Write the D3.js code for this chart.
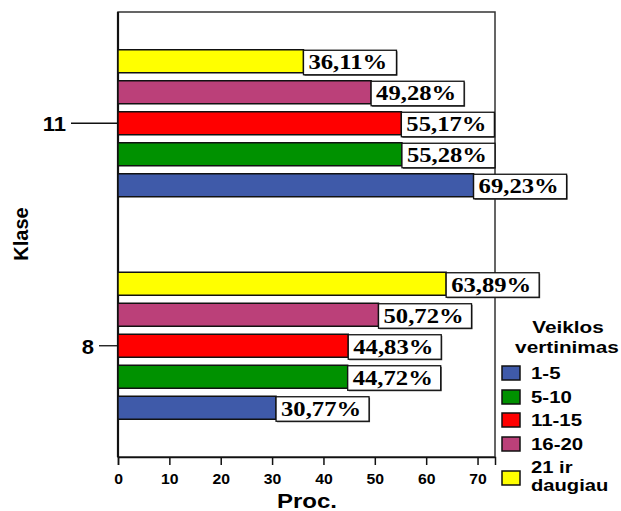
<!DOCTYPE html>
<html>
<head>
<meta charset="utf-8">
<script src="https://cdn.jsdelivr.net/npm/d3@7"></script>
<style>
  html, body { margin: 0; padding: 0; background: #fff; }
  svg { display: block; }
  .sans { font-family: Arial, "Liberation Sans", sans-serif; font-weight: bold; fill: #000; }
  .serif { font-family: "Times New Roman", "Liberation Serif", serif; font-weight: bold; fill: #000; }
</style>
</head>
<body>
<svg id="chart" width="621" height="511"></svg>
<script>
// Classes (y categories), top to bottom
const classes = ["11", "8"];
// Activity score groups (series), legend order
const series = ["1-5", "5-10", "11-15", "16-20", "21 ir daugiau"];
const seriesColors = ["#3f5aa9", "#009100", "#ff0000", "#bb4079", "#ffff00"];
// Percentages per class, one value per series
const values11 = [69.23, 55.28, 55.17, 49.28, 36.11];
const values8 = [30.77, 44.72, 44.83, 50.72, 63.89];
const xTicks = [0, 10, 20, 30, 40, 50, 60, 70];

const valuesByClass = { "11": values11, "8": values8 };
const fmt = v => v.toFixed(2).replace(".", ",") + "%";

const svg = d3.select("#chart");
const plot = { left: 118, right: 495, top: 12, bottom: 457 };

// widen a text node horizontally by the given factor
function stretch(sel, factor) {
  sel.each(function () {
    const len = this.getComputedTextLength();
    d3.select(this).attr("textLength", len * factor).attr("lengthAdjust", "spacingAndGlyphs");
  });
}

const x = d3.scaleLinear().domain([0, 73.4]).range([plot.left, plot.right]);
const y = d3.scalePoint().domain(classes).range([plot.top, plot.bottom]).padding(0.5);
// bars inside a class: highest series at the top
const inner = d3.scaleBand()
  .domain(series.slice().reverse())
  .range([-73.5, 73.5])
  .paddingInner(8 / 31)
  .paddingOuter(0);

// frame
svg.append("rect")
  .attr("x", plot.left).attr("y", plot.top)
  .attr("width", plot.right - plot.left).attr("height", plot.bottom - plot.top)
  .attr("fill", "none").attr("stroke", "#333").attr("stroke-width", 1.5);
svg.append("line")
  .attr("x1", plot.left).attr("x2", plot.left)
  .attr("y1", plot.top).attr("y2", plot.bottom)
  .attr("stroke", "#111").attr("stroke-width", 2.2);

// bars
const rows = [];
classes.forEach(c => series.forEach((s, i) => rows.push({ c, s, i, v: valuesByClass[c][i] })));

svg.append("g").selectAll("rect")
  .data(rows).join("rect")
  .attr("x", plot.left)
  .attr("y", d => y(d.c) + inner(d.s))
  .attr("width", d => x(d.v) - x(0))
  .attr("height", inner.bandwidth())
  .attr("fill", d => seriesColors[d.i])
  .attr("stroke", "#111").attr("stroke-width", 1.5);

// x axis
const xAxis = svg.append("g")
  .attr("transform", `translate(0,${plot.bottom})`)
  .call(d3.axisBottom(x).tickValues(xTicks).tickSize(8).tickPadding(8).tickFormat(d3.format("d")));
xAxis.select(".domain").attr("stroke", "#111").attr("stroke-width", 1.5);
xAxis.selectAll(".tick line").attr("stroke", "#111").attr("stroke-width", 1.5);
xAxis.selectAll(".tick text")
  .attr("class", "sans").style("font-size", "15px")
  .call(stretch, 1.05);

// y axis ticks of varying length, labels at their left end
const klaseTickLength = { "11": 47, "8": 19 };
const yAxis = svg.append("g");
classes.forEach(c => {
  const x0 = plot.left - klaseTickLength[c];
  yAxis.append("line")
    .attr("x1", x0).attr("x2", plot.left)
    .attr("y1", y(c)).attr("y2", y(c))
    .attr("stroke", "#111").attr("stroke-width", 1.3);
  yAxis.append("text")
    .attr("class", "sans")
    .attr("x", x0 - 5).attr("y", y(c) + 8)
    .attr("text-anchor", "end")
    .style("font-size", "21px")
    .text(c)
    .call(stretch, 1.05);
});

// value labels
const labels = svg.append("g").selectAll("g")
  .data(rows).join("g")
  .attr("transform", d => `translate(${x(d.v)},${y(d.c) + inner(d.s) + 0.5})`);
labels.append("rect")
  .attr("x", 1).attr("y", 1).attr("width", 93).attr("height", 24.5)
  .attr("fill", "#444");
labels.append("rect")
  .attr("width", 93).attr("height", 24.5)
  .attr("fill", "#fff").attr("stroke", "#111").attr("stroke-width", 1.3);
labels.append("text")
  .attr("class", "serif")
  .attr("x", 5).attr("y", 19)
  .style("font-size", "22px")
  .text(d => fmt(d.v))
  .call(stretch, 1.12);

// axis titles
svg.append("text")
  .attr("class", "sans")
  .attr("x", 307).attr("y", 508)
  .attr("text-anchor", "middle")
  .style("font-size", "20px")
  .text("Proc.")
  .call(stretch, 1.2);
svg.append("text")
  .attr("class", "sans")
  .attr("transform", "translate(28,234) rotate(-90)")
  .attr("text-anchor", "middle")
  .style("font-size", "20px")
  .text("Klase");

// legend
const legend = svg.append("g");
legend.append("text").attr("class", "sans")
  .attr("x", 568).attr("y", 333).attr("text-anchor", "middle")
  .style("font-size", "17px").text("Veiklos").call(stretch, 1.22);
legend.append("text").attr("class", "sans")
  .attr("x", 567).attr("y", 353).attr("text-anchor", "middle")
  .style("font-size", "17px").text("vertinimas").call(stretch, 1.22);

const legendTop = [366, 390, 413, 437, 471];
const legendItems = legend.selectAll("g.item")
  .data(series).join("g").attr("class", "item")
  .attr("transform", (d, i) => `translate(502,${legendTop[i]})`);
legendItems.append("rect")
  .attr("width", 18).attr("height", 14)
  .attr("fill", (d, i) => seriesColors[i])
  .attr("stroke", "#111").attr("stroke-width", 1.5);
legendItems.each(function (d) {
  const g = d3.select(this);
  const words = d === "21 ir daugiau" ? ["21 ir", "daugiau"] : [d];
  words.forEach((w, k) => {
    g.append("text").attr("class", "sans")
      .attr("x", 29)
      .attr("y", words.length > 1 ? 1.5 + k * 18 : 13)
      .style("font-size", words.length > 1 ? "16px" : "17px")
      .text(w)
      .call(stretch, words.length > 1 ? 1.26 : 1.2);
  });
});
</script>
</body>
</html>
